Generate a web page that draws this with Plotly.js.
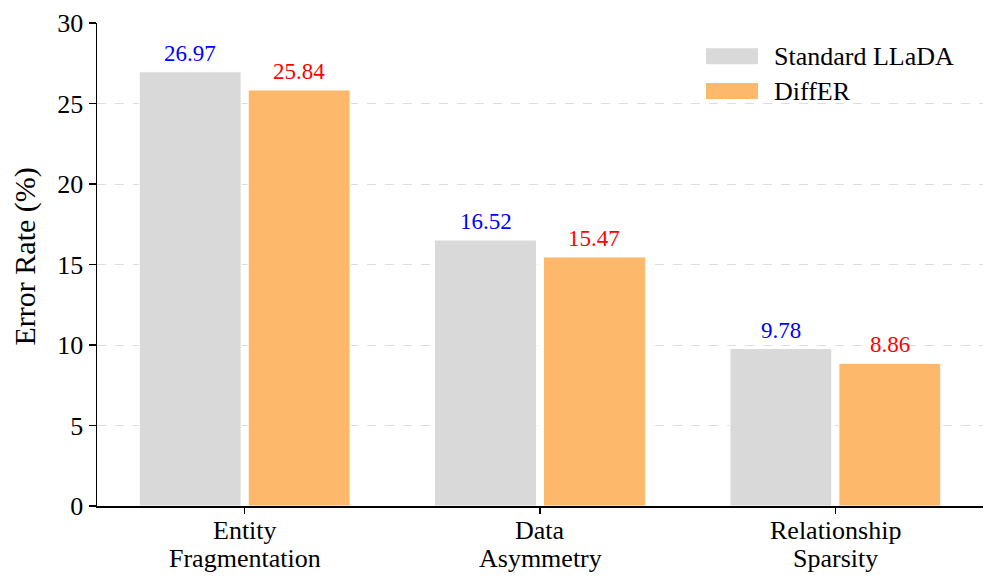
<!DOCTYPE html>
<html>
<head>
<meta charset="utf-8">
<script src="https://cdn.plot.ly/plotly-3.0.1.min.js"></script>
<style>html,body{margin:0;padding:0;background:#fff}#chart{width:996px;height:587px}</style>
</head>
<body>
<div id="chart"></div>
<script>
const categories = ["Entity<br>Fragmentation", "Data<br>Asymmetry", "Relationship<br>Sparsity"];
const seriesNames = ["Standard LLaDA", "DiffER"];
const standardValues = [26.97, 16.52, 9.78];
const differValues = [25.84, 15.47, 8.86];
const yTicks = [0, 5, 10, 15, 20, 25, 30];
const yTitle = "Error Rate (%)";

const FONT = "'Liberation Serif', 'Times New Roman', serif";
const colors = ["#d9d9d9", "#fdb86b"];
const labelColors = ["#0000ff", "#ff0000"];
const barW = 0.345;
const centerOff = 0.1845;
const idx = categories.map((_, i) => i);

const series = [standardValues, differValues];
const traces = series.map((vals, s) => ({
  type: "bar",
  x: idx,
  y: vals,
  name: seriesNames[s],
  width: barW,
  offset: (s === 0 ? -centerOff : centerOff) - barW / 2,
  marker: { color: colors[s], line: { color: "#ffffff", width: 1 } },
  showlegend: false,
  hoverinfo: "skip"
}));

const annotations = [];
series.forEach((vals, s) => {
  vals.forEach((v, i) => {
    annotations.push({
      x: i + (s === 0 ? -centerOff : centerOff),
      y: v, xref: "x", yref: "y",
      text: v.toFixed(2), showarrow: false,
      yanchor: "bottom", yshift: 4,
      font: { family: FONT, size: 23, color: labelColors[s] }
    });
  });
});

// category labels, one annotation per line (tight line spacing)
const lineShifts = [-24, -52.5];
categories.forEach((c, i) => {
  c.split("<br>").forEach((line, k) => {
    annotations.push({
      x: i, xref: "x", y: 0, yref: "paper",
      text: line, showarrow: false,
      xanchor: "center", yanchor: "middle", yshift: lineShifts[k],
      font: { family: FONT, size: 26, color: "#000" }
    });
  });
});

// y-axis title
annotations.push({
  x: 0, xref: "paper", y: 0.5166, yref: "paper",
  xanchor: "center", yanchor: "middle", xshift: -72,
  text: yTitle, textangle: -90, showarrow: false,
  font: { family: FONT, size: 30, color: "#000" }
});

// legend drawn in paper coordinates
const shapes = [];
const legendRows = [0.931, 0.859];
seriesNames.forEach((n, s) => {
  const yc = legendRows[s];
  shapes.push({
    type: "rect", xref: "paper", yref: "paper",
    x0: (706 - 97) / 886, x1: (758 - 97) / 886,
    y0: yc - 8 / 484, y1: yc + 8 / 484,
    fillcolor: colors[s], line: { width: 0 }
  });
  annotations.push({
    xref: "paper", yref: "paper",
    x: (772 - 97) / 886, y: yc, xanchor: "left", yanchor: "middle",
    text: n, showarrow: false,
    font: { family: FONT, size: 26, color: "#000" }
  });
});

const layout = {
  width: 996, height: 587,
  margin: { l: 97, r: 13, t: 23, b: 81 },
  paper_bgcolor: "#fff", plot_bgcolor: "#fff",
  barmode: "overlay",
  font: { family: FONT, size: 25, color: "#000" },
  xaxis: {
    range: [-0.5, 2.5],
    tickmode: "array", tickvals: idx, ticktext: idx.map(() => ""),
    showline: true, linecolor: "#000", linewidth: 1.5,
    ticks: "outside", ticklen: 6, tickwidth: 1.5, tickcolor: "#000",
    showgrid: false, zeroline: false
  },
  yaxis: {
    range: [0, 30],
    tickmode: "array", tickvals: yTicks,
    showline: true, linecolor: "#000", linewidth: 1.5,
    ticks: "outside", ticklen: 7, tickwidth: 1.5, tickcolor: "#000",
    showgrid: true, gridcolor: "#dddddd", griddash: "dash", gridwidth: 1,
    zeroline: false,
    tickfont: { family: FONT, size: 26, color: "#000" }
  },
  annotations: annotations,
  shapes: shapes
};

Plotly.newPlot("chart", traces, layout, { displayModeBar: false, staticPlot: true });
</script>
</body>
</html>
